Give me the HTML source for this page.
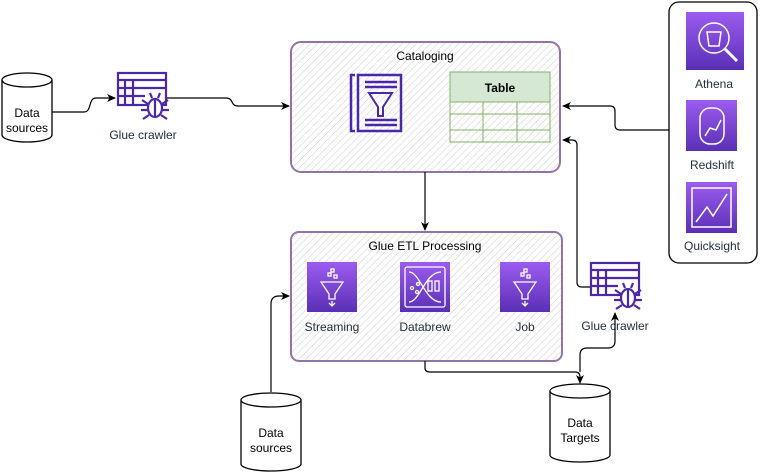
<!DOCTYPE html>
<html><head><meta charset="utf-8"><style>
html,body{margin:0;padding:0;background:#fff;}
svg{display:block;font-family:"Liberation Sans",sans-serif;}
</style></head><body>
<svg width="761" height="473" viewBox="0 0 761 473" xmlns="http://www.w3.org/2000/svg">
<defs>
<pattern id="h" width="5" height="5" patternUnits="userSpaceOnUse" patternTransform="rotate(45)">
<line x1="0" y1="0" x2="0" y2="5" stroke="#d6d6d6" stroke-width="1.2"/>
</pattern>
<linearGradient id="pg" x1="0" y1="0" x2="0" y2="1"><stop offset="0" stop-color="#9c5cf0"/><stop offset="1" stop-color="#5a2fb5"/></linearGradient>
<marker id="a" markerWidth="10" markerHeight="10" refX="8" refY="5" orient="auto" markerUnits="userSpaceOnUse"><path d="M0,1 L9,5 L0,9 L2.5,5 Z" fill="#000"/></marker>
</defs>

<!-- Cataloging -->
<rect x="291" y="42" width="269" height="130" rx="10" fill="url(#h)" stroke="#9673a6" stroke-width="2"/>
<text x="425" y="60" font-size="12" text-anchor="middle">Cataloging</text>
<g stroke="#4d27aa" stroke-width="2.5" fill="none">
<path d="M355,75 H351 V131 H355"/>
<rect x="358" y="75" width="43" height="56"/>
<line x1="365" y1="82" x2="397" y2="82"/><line x1="365" y1="87" x2="397" y2="87"/>
<line x1="365" y1="120" x2="397" y2="120"/><line x1="365" y1="125" x2="397" y2="125"/>
<path d="M369,93 H392 L383,107 V116 H378 V107 Z" stroke-width="2"/>
</g>
<rect x="450" y="72" width="100" height="30" fill="#d5e8d4" stroke="#82b366"/>
<text x="500" y="92" font-size="12" font-weight="bold" text-anchor="middle">Table</text>
<g stroke="#82b366" fill="none">
<rect x="450" y="102" width="100" height="40"/>
<line x1="450" y1="114" x2="550" y2="114"/><line x1="450" y1="130" x2="550" y2="130"/>
<line x1="483" y1="102" x2="483" y2="142"/><line x1="517" y1="102" x2="517" y2="142"/>
</g>

<!-- ETL -->
<rect x="291" y="232" width="271" height="129" rx="8" fill="url(#h)" stroke="#9673a6" stroke-width="2"/>
<text x="425" y="250" font-size="12" text-anchor="middle">Glue ETL Processing</text>
<rect x="307" y="262" width="50" height="50" fill="url(#pg)"/>
<rect x="400" y="262" width="50" height="50" fill="url(#pg)"/>
<rect x="500" y="262" width="50" height="50" fill="url(#pg)"/>
<g stroke="#fff" stroke-width="1.3" fill="none">
<path d="M321,282 H343 L335,294 V299 H329 V294 Z"/><path d="M332,301 V306 M329,303 L332,306 L335,303"/>
<rect x="328" y="273" width="3" height="3"/><rect x="334" y="275" width="3" height="3"/><rect x="331" y="269" width="3" height="3"/>
<path d="M514,282 H536 L528,294 V299 H522 V294 Z"/><path d="M525,301 V306 M522,303 L525,306 L528,303"/>
<rect x="521" y="273" width="3" height="3"/><rect x="527" y="275" width="3" height="3"/><rect x="524" y="269" width="3" height="3"/>
<rect x="405" y="267" width="40" height="40" rx="2"/>
<path d="M409,272 C420,272 425,302 441,302 M409,302 C420,302 425,272 441,272"/>
<rect x="428" y="281" width="4" height="10"/><rect x="435" y="281" width="4" height="10"/>
<circle cx="412" cy="288" r="1.5"/><circle cx="418" cy="284" r="1.5"/><circle cx="417" cy="292" r="1.5"/>
</g>
<text x="332" y="331" font-size="12" fill="#232f3e" text-anchor="middle">Streaming</text>
<text x="425" y="331" font-size="12" fill="#232f3e" text-anchor="middle">Databrew</text>
<text x="525" y="331" font-size="12" fill="#232f3e" text-anchor="middle">Job</text>

<!-- crawler icons -->
<g id="cr" stroke="#4d27aa" stroke-width="2.2" fill="none">
<rect x="118" y="73" width="48" height="32"/>
<line x1="118" y1="80" x2="166" y2="80"/><line x1="118" y1="88" x2="166" y2="88"/><line x1="118" y1="96" x2="145" y2="96"/>
<line x1="125" y1="80" x2="125" y2="105"/><line x1="133" y1="80" x2="133" y2="105"/>
<ellipse cx="155" cy="108" rx="7" ry="9" fill="#fff"/>
<path d="M148,104 L142,100 M148,110 L141,110 M149,115 L143,119 M162,104 L168,100 M162,110 L169,110 M161,115 L167,119 M152,98 L150,93 M158,98 L160,93 M155,100 V117"/>
</g>
<use href="#cr" x="473" y="190"/>
<text x="143" y="139" font-size="12" fill="#232f3e" text-anchor="middle">Glue crawler</text>
<text x="615" y="330" font-size="12" fill="#232f3e" text-anchor="middle">Glue crawler</text>

<!-- right panel -->
<rect x="669" y="2" width="88" height="261" rx="10" fill="#fff" stroke="#000" stroke-width="1.3"/>
<rect x="686" y="12" width="58" height="58" fill="url(#pg)"/>
<rect x="686" y="100" width="51" height="51" fill="url(#pg)"/>
<rect x="686" y="182" width="51" height="51" fill="url(#pg)"/>
<g stroke="#fff" stroke-width="1.5" fill="none">
<circle cx="714" cy="38" r="15"/><line x1="725" y1="49" x2="737" y2="61" stroke-width="3"/>
<path d="M707,32 H721 L719,46 H709 Z"/>
<rect x="700" y="108" width="24" height="36" rx="10"/>
<path d="M705,136 L710,128 L716,130 L721,120"/>
<path d="M692,188 H731 V227 H692 Z"/><path d="M696,222 L707,207 L713,216 L727,194"/>
</g>
<text x="714" y="88" font-size="12" fill="#232f3e" text-anchor="middle">Athena</text>
<text x="712" y="169" font-size="12" fill="#232f3e" text-anchor="middle">Redshift</text>
<text x="712" y="250" font-size="12" fill="#232f3e" text-anchor="middle">Quicksight</text>

<!-- cylinders -->
<g fill="#fff" stroke="#000" stroke-width="1.3">
<path d="M2,80 V135 A25,7 0 0 0 52,135 V80"/><ellipse cx="27" cy="80" rx="25" ry="7"/>
<path d="M241,400 V464 A30,7 0 0 0 301,464 V400"/><ellipse cx="271" cy="400" rx="30" ry="7"/>
<path d="M550,391 V455 A30,7 0 0 0 610,455 V391"/><ellipse cx="580" cy="391" rx="30" ry="7"/>
</g>
<g font-size="12" text-anchor="middle">
<text x="27" y="117">Data</text><text x="27" y="132">sources</text>
<text x="271" y="437">Data</text><text x="271" y="452">sources</text>
<text x="580" y="427">Data</text><text x="580" y="442">Targets</text>
</g>

<!-- connectors -->
<g stroke="#000" stroke-width="1.2" fill="none" marker-end="url(#a)">
<path d="M52,112 H84 C92,112 88,98 96,98 H115"/>
<path d="M167,98 H226 C234,98 230,106 238,106 H289"/>
<path d="M425,172 V230"/>
<path d="M669,130 H620 Q615,130 615,125 V111 Q615,106 610,106 H563"/>
<path d="M590,287 H582 Q577,287 577,282 V145 Q577,140 572,140 H563"/>
<path d="M271,392 V304 Q271,296 279,296 H289"/>
<path d="M425,361 V368 Q425,372 430,372 H575 Q580,372 580,377 V383"/>
<path d="M580,372 V355 Q580,348 587,348 H608 Q615,348 615,341 V313"/>
</g>
</svg>
</body></html>
